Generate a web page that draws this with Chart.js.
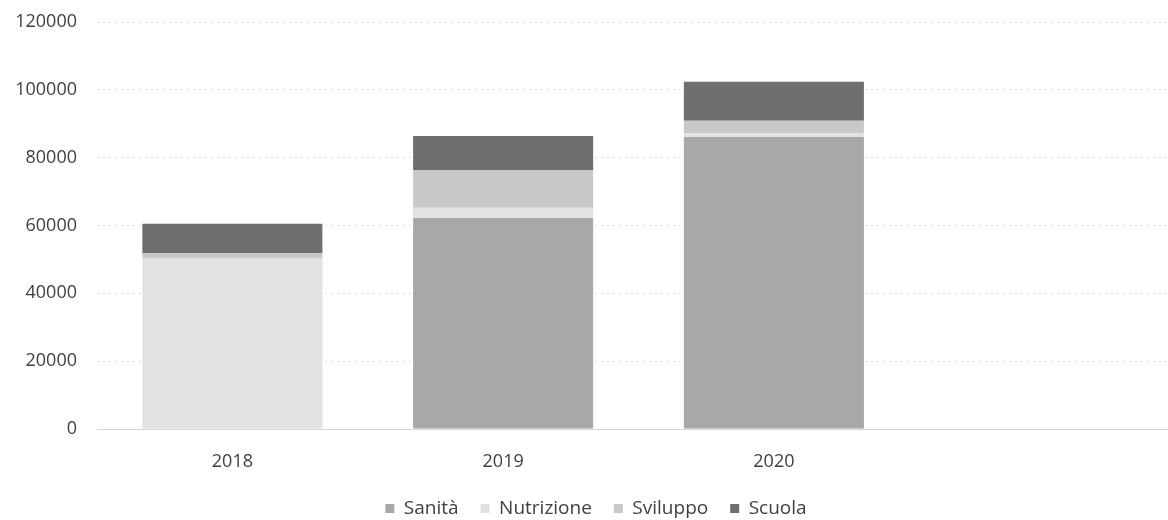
<!DOCTYPE html>
<html>
<head>
<meta charset="utf-8">
<script src="https://cdn.jsdelivr.net/npm/chart.js@4/dist/chart.umd.min.js"></script>
<style>
  html, body { margin: 0; padding: 0; background: #fff; overflow: hidden; }
  #wrap { width: 1180px; height: 528px; }
</style>
</head>
<body>
<div id="wrap"><canvas id="barChart"></canvas></div>
<script>
const years = ["2018", "2019", "2020", ""];

const sanita = [0, 62200, 86100, null];
const nutrizione = [50400, 3000, 1200, null];
const sviluppo = [1500, 11200, 3600, null];
const scuola = [8600, 10000, 11500, null];

const yTicks = [0, 20000, 40000, 60000, 80000, 100000, 120000];

const tickFont = { family: "'Open Sans', sans-serif", size: 18 };
const legendFont = { family: "'Open Sans', sans-serif", size: 19 };

new Chart(document.getElementById("barChart"), {
    type: "bar",
    data: {
        labels: years,
        datasets: [
            { label: "Sanità", data: sanita, backgroundColor: "#a8a8aa" },
            { label: "Nutrizione", data: nutrizione, backgroundColor: "#e2e2e2" },
            { label: "Sviluppo", data: sviluppo, backgroundColor: "#c8c8c8" },
            { label: "Scuola", data: scuola, backgroundColor: "#6f6f6f" }
        ]
    },
    options: {
        responsive: true,
        maintainAspectRatio: false,
        animation: false,
        layout: { autoPadding: false, padding: { top: 22, right: 0, left: 12, bottom: 0 } },
        datasets: {
            bar: { categoryPercentage: 1, barPercentage: 0.665 }
        },
        plugins: {
            tooltip: { enabled: false },
            legend: {
                position: "bottom",
                labels: {
                    boxWidth: 9,
                    boxHeight: 9,
                    padding: 22,
                    color: "#404040",
                    font: legendFont
                }
            }
        },
        scales: {
            x: {
                stacked: true,
                grid: { display: false },
                border: { display: true, color: "#d4d4d4" },
                ticks: { color: "#404040", font: tickFont, padding: 14 },
                afterFit: s => { s.height = 48; }
            },
            y: {
                stacked: true,
                min: 0,
                max: 120000,
                afterBuildTicks: s => { s.ticks = yTicks.map(v => ({ value: v })); },
                // invisible 20px tick marks keep the labels off the plot
                grid: { color: "#dcdcdc", drawTicks: true, tickLength: 20, tickColor: "rgba(0,0,0,0)" },
                border: { display: false, dash: [2, 4] },
                ticks: { color: "#404040", font: tickFont, padding: 0, callback: v => String(v) },
                afterFit: s => { s.width = 85; }
            }
        }
    }
});
</script>
</body>
</html>
